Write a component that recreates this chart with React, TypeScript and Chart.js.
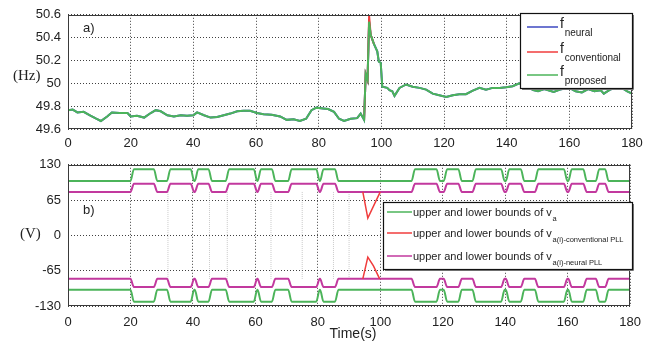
import React, { useEffect, useRef } from 'react';
import { Chart, registerables } from 'chart.js';

Chart.register(...registerables);

// ---------- top panel a): frequency ----------
const fTime = [0, 1.5, 3, 5, 7, 9, 10.5, 12.5, 14, 16.5, 19, 20, 22, 24.3, 26.4, 28, 29.6, 31.7, 33.8, 36, 38, 40, 41.2, 43.4, 45.5, 47.6, 49.7, 51.8, 54, 56, 58.1, 60.3, 62.4, 65, 67.7, 69.8, 72, 74, 76, 77.7, 79.3, 81.4, 83, 84.9, 86.5, 88.1, 90.2, 92.3, 93.4, 94.5, 95, 95.6, 96.1, 96.6, 97.7, 98.7, 99.2, 99.8, 100.3, 101.9, 102.6, 103.5, 104.2, 105.8, 107.9, 110, 112.2, 114.3, 116.4, 118.5, 120.7, 122.8, 124.9, 127, 129.2, 131.3, 133.4, 135.5, 137.7, 139.8, 141.9, 144, 146, 148.5, 150, 152, 155, 157, 160, 162, 164, 166, 168, 170, 171, 173, 175, 177, 178.5, 180];
const fProposed = [49.765, 49.77, 49.745, 49.75, 49.72, 49.69, 49.67, 49.71, 49.745, 49.74, 49.74, 49.71, 49.715, 49.7, 49.74, 49.765, 49.755, 49.72, 49.71, 49.72, 49.715, 49.72, 49.745, 49.72, 49.7, 49.705, 49.72, 49.735, 49.755, 49.76, 49.76, 49.74, 49.73, 49.725, 49.71, 49.68, 49.685, 49.67, 49.69, 49.765, 49.787, 49.78, 49.775, 49.75, 49.69, 49.67, 49.69, 49.695, 49.735, 49.68, 50.08, 50.03, 50.54, 50.425, 50.34, 50.28, 50.19, 50.18, 49.97, 49.96, 49.94, 49.93, 49.89, 49.96, 49.99, 49.97, 49.96, 49.945, 49.91, 49.895, 49.88, 49.895, 49.905, 49.905, 49.936, 49.96, 49.945, 49.96, 49.96, 49.965, 49.975, 50.0, 49.975, 49.94, 49.93, 49.95, 49.925, 49.945, 49.96, 49.93, 49.92, 49.95, 49.93, 49.94, 49.91, 49.945, 49.96, 49.955, 49.93, 49.91];
// the neural-PLL trace lies exactly under the proposed one in the picture
const fNeural = fProposed;
const convTime = [94.5, 95, 95.6, 96.1, 96.6, 97.7];
const fConventional = [49.68, 50.08, 50.03, 50.59, 50.425, 50.34];

// ---------- bottom panel b): voltage bounds ----------
// switching instants (alternating rise / fall of the bound magnitude)
const vTransitions = [20, 27.5, 31.7, 39.3, 40.6, 45, 50.5, 59.5, 60.7, 65.3, 70.5, 79.5, 80.7, 85.5, 110, 118, 120.3, 125, 129.5, 138.7, 140.2, 145, 149.5, 158.8, 160.2, 165, 169, 172];
const vaUpper = [100, 122];
const vaLower = [-100, -122];
const vNeuralUpper = [80, 95];
const vNeuralLower = [-80, -95];
const convUpperTime = [94.4, 96.0, 98.8, 100];
const vConvUpper = [80, 32, 66, 80];
const convLowerTime = [94.4, 96.0, 97.8, 99.8];
const vConvLower = [-80, -40, -56, -80];
const grayMarks = [32, 45.3, 51, 65, 75, 85, 90];

const xTicksStep = 20;
const RAMP = 1.1;

const GREEN = '#4cb45a';
const RED = '#f03c3c';
const BLUE = '#3c48c0';
const MAGENTA = '#c2399e';

const SANS = '"Liberation Sans", Arial, sans-serif';
const SERIF = '"Liberation Serif", "Times New Roman", serif';

function zipXY(xs: number[], ys: number[]) {
  return xs.map((x, i) => ({ x, y: ys[i] }));
}

function boundSeries(levels: number[]) {
  const pts: { x: number; y: number }[] = [{ x: 0, y: levels[0] }];
  let s = 0;
  for (const t of vTransitions) {
    pts.push({ x: t, y: levels[s] });
    s = 1 - s;
    pts.push({ x: t + RAMP, y: levels[s] });
  }
  pts.push({ x: 180, y: levels[s] });
  return pts;
}

function grayMarkSeries() {
  const pts: { x: number; y: number | null }[] = [];
  for (const t of grayMarks) {
    pts.push({ x: t, y: 80 }, { x: t, y: -80 }, { x: t, y: null });
  }
  return pts;
}

const framePlugin = {
  id: 'frame',
  afterDatasetsDraw(chart: any) {
    const { ctx, chartArea: a } = chart;
    ctx.save();
    ctx.strokeStyle = '#3a3a3a';
    ctx.lineWidth = 1;
    ctx.strokeRect(Math.round(a.left) + 0.5, Math.round(a.top) + 0.5, Math.round(a.right - a.left) - 1, Math.round(a.bottom - a.top) - 1);
    ctx.restore();
  },
};

function legendFrame(ctx: CanvasRenderingContext2D, x: number, y: number, w: number, h: number) {
  ctx.fillStyle = '#ffffff';
  ctx.fillRect(x, y, w, h);
  ctx.strokeStyle = '#7a7a7a';
  ctx.lineWidth = 1;
  ctx.beginPath();
  ctx.moveTo(x + 2, y + h + 1.5);
  ctx.lineTo(x + w + 1.5, y + h + 1.5);
  ctx.lineTo(x + w + 1.5, y + 2);
  ctx.stroke();
  ctx.strokeStyle = '#111';
  ctx.lineWidth = 1.2;
  ctx.strokeRect(x + 0.5, y + 0.5, w, h);
}

function textWithSub(ctx: CanvasRenderingContext2D, main: string, sub: string, x: number, base: number, mainFont: string, subFont: string, subDy: number, gap = 0.5) {
  ctx.font = mainFont;
  ctx.fillText(main, x, base);
  const w = ctx.measureText(main).width;
  ctx.font = subFont;
  ctx.fillText(sub, x + w + gap, base + subDy);
}

const topTextPlugin = {
  id: 'topText',
  afterDraw(chart: any) {
    const ctx: CanvasRenderingContext2D = chart.ctx;
    ctx.save();
    ctx.fillStyle = '#222';
    ctx.textAlign = 'left';
    ctx.textBaseline = 'alphabetic';
    ctx.font = `13px ${SANS}`;
    ctx.fillText('a)', 83, 32);
    ctx.font = `15px ${SERIF}`;
    ctx.fillText('(Hz)', 13, 80);
    // legend
    legendFrame(ctx, 520, 13, 112, 75);
    const items = [
      { c: BLUE, s: 'neural', y: 27 },
      { c: RED, s: 'conventional', y: 52 },
      { c: GREEN, s: 'proposed', y: 75 },
    ];
    for (const it of items) {
      ctx.strokeStyle = it.c;
      ctx.lineWidth = 1.5;
      ctx.beginPath();
      ctx.moveTo(527, it.y);
      ctx.lineTo(558, it.y);
      ctx.stroke();
      ctx.fillStyle = '#222';
      textWithSub(ctx, 'f', it.s, 560, it.y + 1, `14px ${SANS}`, `10px ${SANS}`, 8, 0.8);
    }
    ctx.restore();
  },
};

const bottomTextPlugin = {
  id: 'bottomText',
  afterDraw(chart: any) {
    const ctx: CanvasRenderingContext2D = chart.ctx;
    ctx.save();
    ctx.fillStyle = '#222';
    ctx.textAlign = 'left';
    ctx.textBaseline = 'alphabetic';
    ctx.font = `13px ${SANS}`;
    ctx.fillText('b)', 83, 64);
    ctx.font = `15px ${SERIF}`;
    ctx.fillText('(V)', 20, 88);
    ctx.font = `14px ${SANS}`;
    ctx.textAlign = 'center';
    ctx.fillText('Time(s)', 353, 188);
    ctx.textAlign = 'left';
    // legend
    legendFrame(ctx, 383, 52, 249, 67);
    const items = [
      { c: GREEN, s: 'a', y: 62 },
      { c: RED, s: 'a(i)-conventional PLL', y: 83 },
      { c: MAGENTA, s: 'a(i)-neural PLL', y: 106 },
    ];
    for (const it of items) {
      ctx.strokeStyle = it.c;
      ctx.lineWidth = 1.5;
      ctx.beginPath();
      ctx.moveTo(387, it.y);
      ctx.lineTo(412, it.y);
      ctx.stroke();
      ctx.fillStyle = '#222';
      textWithSub(ctx, 'upper and lower bounds of v', it.s, 413, it.y + 4, `11px ${SANS}`, `7.5px ${SANS}`, 5, 0.8);
    }
    ctx.restore();
  },
};

function xScale(height: number, pad: number) {
  return {
    type: 'linear' as const,
    min: 0,
    max: 180,
    afterFit: (s: any) => { s.height = height; },
    ticks: { stepSize: xTicksStep, autoSkip: false, maxRotation: 0, padding: pad, color: '#222', font: { family: SANS, size: 13 } },
    grid: { color: 'rgba(30,30,30,0.85)', lineWidth: 1, drawTicks: false },
    border: { display: false, dash: [1, 2] },
    title: { display: false },
  };
}

function yScale(min: number, max: number, step: number, fmt: (v: number) => string) {
  return {
    type: 'linear' as const,
    min,
    max,
    afterFit: (s: any) => { s.width = 68; },
    ticks: { stepSize: step, autoSkip: false, padding: 7, color: '#222', font: { family: SANS, size: 13 }, callback: (v: any) => fmt(Number(v)) },
    grid: { color: 'rgba(30,30,30,0.85)', lineWidth: 1, drawTicks: false },
    border: { display: false, dash: [1, 2] },
  };
}

export default function App() {
  const topRef = useRef<HTMLCanvasElement>(null);
  const botRef = useRef<HTMLCanvasElement>(null);

  useEffect(() => {
    const common = {
      responsive: false,
      animation: false as const,
      devicePixelRatio: 1,
      plugins: { legend: { display: false }, tooltip: { enabled: false } },
      elements: { point: { radius: 0 } },
    };

    // Chart.js paints the dataset with the lowest "order" on top
    const top = new Chart(topRef.current!, {
      type: 'line',
      data: {
        datasets: [
          { label: 'f neural', order: 3, data: zipXY(fTime, fNeural), borderColor: BLUE, borderWidth: 2, pointRadius: 0, tension: 0 },
          { label: 'f conventional', order: 2, data: zipXY(convTime, fConventional), borderColor: RED, borderWidth: 2, pointRadius: 0, tension: 0 },
          { label: 'f proposed', order: 1, data: zipXY(fTime, fProposed), borderColor: GREEN, borderWidth: 2, pointRadius: 0, tension: 0 },
        ],
      },
      options: {
        ...common,
        layout: { padding: { left: 0, right: 18, top: 13, bottom: 0 } },
        scales: {
          x: xScale(21, 7),
          y: yScale(49.6, 50.6, 0.2, (v) => String(Math.round(v * 10) / 10)),
        },
      } as any,
      plugins: [framePlugin, topTextPlugin],
    });

    const mono = { cubicInterpolationMode: 'monotone' as const, borderWidth: 2, pointRadius: 0 };
    const bottom = new Chart(botRef.current!, {
      type: 'line',
      data: {
        datasets: [
          { label: 'marks', order: 9, data: grayMarkSeries() as any, borderColor: 'rgba(150,150,150,0.5)', borderWidth: 1, borderDash: [1, 1], pointRadius: 0, tension: 0, spanGaps: false },
          { label: 'va upper', order: 5, data: boundSeries(vaUpper), borderColor: GREEN, ...mono },
          { label: 'va lower', order: 5, data: boundSeries(vaLower), borderColor: GREEN, ...mono },
          { label: 'conv upper', order: 3, data: zipXY(convUpperTime, vConvUpper), borderColor: RED, borderWidth: 1.5, pointRadius: 0, tension: 0 },
          { label: 'conv lower', order: 3, data: zipXY(convLowerTime, vConvLower), borderColor: RED, borderWidth: 1.5, pointRadius: 0, tension: 0 },
          { label: 'neural upper', order: 4, data: boundSeries(vNeuralUpper), borderColor: MAGENTA, ...mono },
          { label: 'neural lower', order: 4, data: boundSeries(vNeuralLower), borderColor: MAGENTA, ...mono },
        ],
      },
      options: {
        ...common,
        layout: { padding: { left: 0, right: 18, top: 13, bottom: 0 } },
        scales: {
          x: xScale(37, 9),
          y: yScale(-130, 130, 65, (v) => String(v)),
        },
      } as any,
      plugins: [framePlugin, bottomTextPlugin],
    });

    return () => {
      top.destroy();
      bottom.destroy();
    };
  }, []);

  return (
    <div style={{ position: 'fixed', left: 0, top: 0, width: 650, height: 343, background: '#fff' }}>
      <canvas ref={topRef} width={650} height={150} style={{ position: 'absolute', left: 0, top: 0, width: 650, height: 150 }} />
      <canvas ref={botRef} width={650} height={193} style={{ position: 'absolute', left: 0, top: 150, width: 650, height: 193 }} />
    </div>
  );
}
